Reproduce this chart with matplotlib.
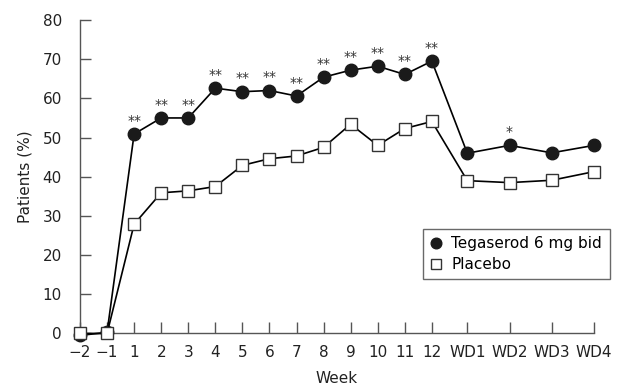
import numpy as np
import matplotlib
matplotlib.use("Agg")
import matplotlib.pyplot as plt

plt.rcParams['font.family'] = ['DejaVu Sans']

# data
week_labels = ['\u22122', '\u22121', '1', '2', '3', '4', '5', '6', '7', '8', '9', '10', '11', '12',
               'WD1', 'WD2', 'WD3', 'WD4']
tegaserod = [-0.5, 0.3, 50.9, 55.0, 55.0, 62.6, 61.7, 62.0, 60.6, 65.4, 67.2, 68.2, 66.1, 69.5,
             46.0, 48.0, 46.1, 48.0]
placebo = [0.0, 0.0, 27.9, 35.9, 36.4, 37.5, 42.9, 44.6, 45.3, 47.5, 53.4, 48.0, 52.3, 54.1,
           39.0, 38.5, 39.1, 41.3]
signif = ['', '', '**', '**', '**', '**', '**', '**', '**', '**', '**', '**', '**', '**',
          '', '*', '', '']

# treatment weeks evenly spaced, withdrawal weeks spread out a bit more
x = np.concatenate([np.arange(14), 13 + 1.31 + 1.56 * np.arange(4)])

fig = plt.figure(figsize=(6.23, 3.88), dpi=100)
ax = fig.add_axes([0.1284, 0.1405, 0.825, 0.808])

ax.plot(x, placebo, color='black', lw=1.2, marker='s', ms=8.2, mfc='white',
        mec='#333333', mew=1.0, clip_on=False, zorder=5, label='Placebo')
ax.plot(x, tegaserod, color='black', lw=1.2, marker='o', ms=9, mfc='#1a1a1a',
        mec='#1a1a1a', clip_on=False, zorder=4, label='Tegaserod 6 mg bid')

for xi, yi, s in zip(x, tegaserod, signif):
    if s:
        ax.annotate(s, (xi, yi), xytext=(0, 4.5), textcoords='offset points',
                    ha='center', va='bottom', fontsize=10, color='#333333')

ax.set_xlim(0, x[-1])
ax.set_ylim(0, 80)
ax.set_xticks(x)
ax.set_xticklabels(week_labels)
ax.set_yticks(np.arange(0, 81, 10))

for side in ['top', 'right']:
    ax.spines[side].set_visible(False)
for side in ['left', 'bottom']:
    ax.spines[side].set_color('#555555')
    ax.spines[side].set_linewidth(1.0)

ax.tick_params(direction='in', length=8, width=1.0, color='#555555',
               labelsize=11, labelcolor='#222222')
ax.tick_params(axis='x', pad=8)
ax.tick_params(axis='y', pad=13)

ax.set_xlabel('Week', fontsize=11, color='#222222', labelpad=8)
ax.set_ylabel('Patients (%)', fontsize=11, color='#222222', labelpad=7)

handles, labels = ax.get_legend_handles_labels()
leg = ax.legend(handles[::-1], labels[::-1], loc='lower left',
                bbox_to_anchor=(0.667, 0.174, 0.365, 0.162), mode='expand',
                borderaxespad=0, fontsize=11, handlelength=0.8, handletextpad=0.6,
                fancybox=False, frameon=True, labelspacing=0.38, borderpad=0.45,
                markerscale=0.85)
leg.get_frame().set_edgecolor('#444444')
leg.get_frame().set_linewidth(1.0)
for line in leg.get_lines():
    line.set_linestyle('')

fig.savefig('out.png', dpi=100)
